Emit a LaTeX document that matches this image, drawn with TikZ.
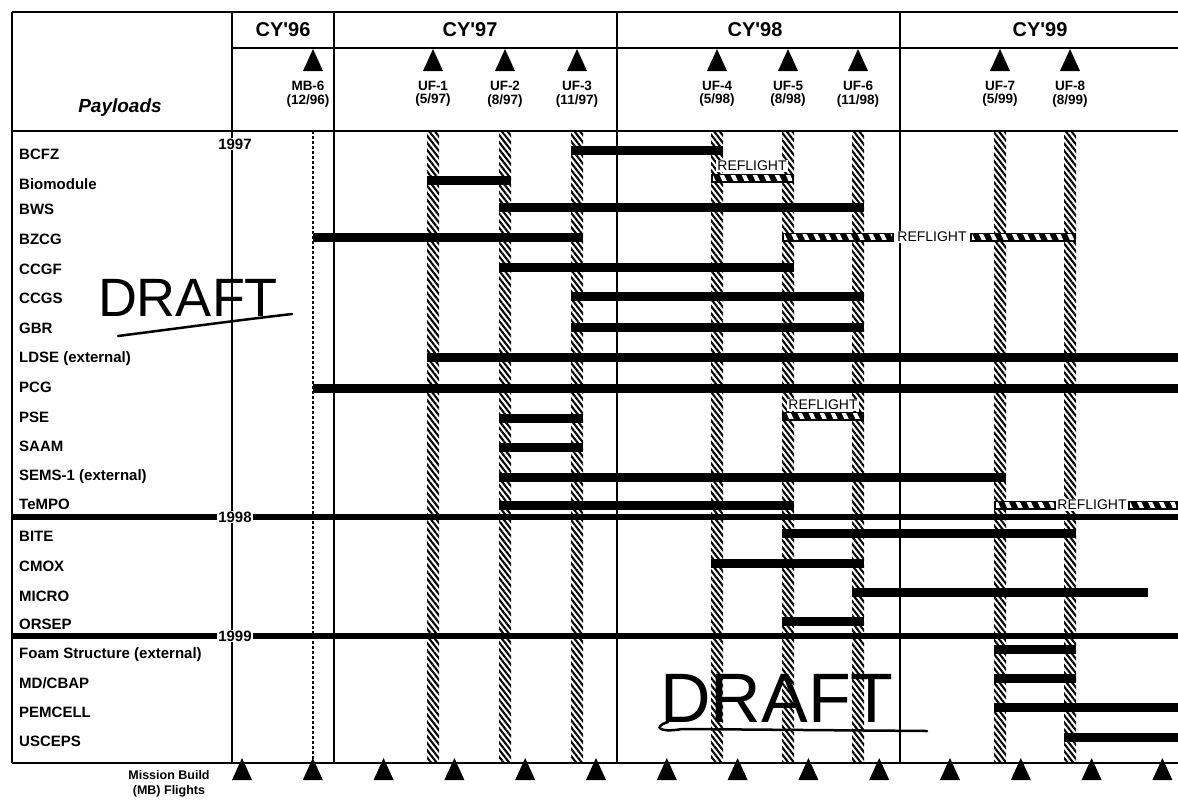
\documentclass[tikz,border=0pt]{standalone}
\usepackage{fontspec}
\setmainfont{Liberation Sans}
\usepackage{tikz}
\usetikzlibrary{patterns.meta}
\tikzset{
  rule/.style={line width=1.8pt,black},
  hatch/.style={pattern={Lines[angle=-52,distance=4.4pt,line width=2.1pt]},pattern color=black},
  bar/.style={line width=9pt,black},
  yrline/.style={line width=6.5pt,black},
  reflpat/.style={pattern={Lines[angle=-65,distance=10pt,line width=4pt]},pattern color=white},
  plabel/.style={font=\fontsize{15}{16}\selectfont\bfseries,anchor=base west,inner sep=0pt},
  cy/.style={font=\fontsize{20}{22}\selectfont\bfseries},
  flbl/.style={font=\fontsize{13.5}{13.5}\selectfont\bfseries,align=center,inner sep=0pt},
  refl/.style={font=\fontsize{14}{15}\selectfont,fill=white,inner sep=1pt},
  yr/.style={font=\fontsize{15}{16}\selectfont\bfseries,fill=white,inner sep=1pt},
  draft/.style={font=\fontsize{54}{58}\selectfont,inner sep=0pt}
}
\newcommand{\tri}[2]{\fill (#1-10,#2+22) -- (#1,#2) -- (#1+10,#2+22) -- cycle;}

\begin{document}
\begin{tikzpicture}[x=1pt,y=-1pt]
\useasboundingbox (0,0) rectangle (1178,804);
% hatched flight columns
\foreach \x/\k/\m/\yy in {433/1/5/97,505/2/8/97,577/3/11/97,717/4/5/98,788/5/8/98,858/6/11/98,1000/7/5/99,1070/8/8/99}{
  \fill[hatch] (\x-6,131) rectangle (\x+6,763);
  \tri{\x}{49}
  \node[flbl] (uf\k) at (\x,94) {UF-\k\\(\m/\yy)};
}
\draw[densely dashed,line width=1.5pt] (313,131) -- (313,763);
\tri{313}{49}
\node[flbl] (mb6) at (308,94) {MB-6\\(12/96)};
% table rules
\draw[rule] (12,12) -- (1178,12);
\draw[rule] (232,48) -- (1178,48);
\draw[rule] (12,131) -- (1178,131);
\draw[rule] (12,763) -- (1178,763);
\draw[rule] (12,12) -- (12,763);
\foreach \x in {232,334,617,900} \draw[rule] (\x,12) -- (\x,763);
\node[cy] (cy96) at (283,30) {CY\textquotesingle 96};
\node[cy] (cy97) at (470,30) {CY\textquotesingle 97};
\node[cy] (cy98) at (755,30) {CY\textquotesingle 98};
\node[cy] (cy99) at (1040,30) {CY\textquotesingle 99};
\node[font=\fontsize{19}{20}\selectfont\bfseries\itshape] (pay) at (120,108) {Payloads};
% payload bars
\foreach \y/\a/\b in {150/571/723,180/427/511,207/499/864,237/313/583,267/499/794,296/571/864,327/571/864,
  357/427/1178,388/313/1178,418/499/583,447/499/583,477/499/1006,505/499/794,533/782/1076,563/711/864,
  592/852/1148,621/782/864,649/994/1076,678/994/1076,707/994/1178,737/1064/1178}
  \draw[bar] (\a,\y) -- (\b,\y);
% reflights
\foreach \y/\a/\b in {178/711/794,237/782/894,237/970/1076,416/782/864,505/994/1056,505/1128/1178}{
  \fill (\a,\y-4.5) rectangle (\b,\y+4.5);
  \fill[reflpat] (\a+2,\y-2.5) rectangle (\b-2,\y+2.5);
}
\node[refl] (rf1) at (752,166) {REFLIGHT};
\node[refl] (rf2) at (932,237) {REFLIGHT};
\node[refl] (rf3) at (823,405) {REFLIGHT};
\node[refl] (rf4) at (1092,505) {REFLIGHT};
% year breaks
\draw[yrline] (12,517) -- (1178,517);
\draw[yrline] (12,636) -- (1178,636);
\node[yr] (y97) at (235,144) {1997};
\node[yr] (y98) at (235,517) {1998};
\node[yr] (y99) at (235,636) {1999};
% payload names
\foreach \y/\t [count=\i] in {159/BCFZ,189/Biomodule,214/BWS,244/BZCG,274/CCGF,303/CCGS,333/GBR,362/LDSE (external),
  392/PCG,422/PSE,451/SAAM,480/SEMS-1 (external),509/TeMPO,541/BITE,571/CMOX,601/MICRO,629/ORSEP,
  658/Foam Structure (external),688/{MD/CBAP},717/PEMCELL,746/USCEPS}
  \node[plabel] (row\i) at (19,\y) {\t};
% MB flights
\foreach \i in {0,...,13}{\pgfmathsetmacro\bx{242+70.8*\i}\tri{\bx}{758}}
\node[font=\fontsize{12.5}{15}\selectfont\bfseries,align=center] (mbf) at (169,784) {Mission Build\\(MB) Flights};
% draft marks
\node[draft] (draft1) at (188,298) {DRAFT};
\draw[line width=2.5pt,line cap=round] (118,336) .. controls (180,328) and (240,320) .. (292,314);
\node[draft,font=\fontsize{70}{74}\selectfont] (draft2) at (777,698) {DRAFT};
\draw[line width=2.5pt,line cap=round] (668,722) .. controls (652,727) and (660,733) .. (682,729) -- (927,731);
\end{tikzpicture}
\end{document}
